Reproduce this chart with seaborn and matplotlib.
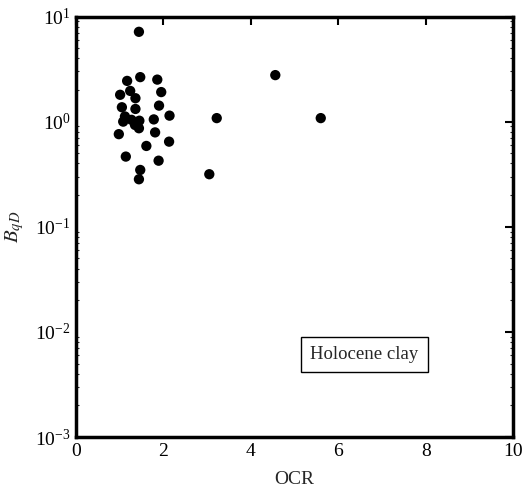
import matplotlib
matplotlib.use("Agg")
import matplotlib.pyplot as plt
import seaborn as sns
import pandas as pd
import numpy as np
from matplotlib.ticker import LogLocator, FixedLocator

ocr = [1.44, 1.47, 1.86, 1.17, 1.95, 1.01, 1.24, 1.36, 1.90, 1.05, 1.36, 2.14,
       3.22, 1.12, 1.08, 1.27, 1.45, 1.78, 1.35, 1.44, 0.98, 1.81, 2.13, 1.61,
       1.14, 1.89, 3.05, 1.47, 1.44, 4.56, 5.60]
bqd = [7.15, 2.65, 2.51, 2.44, 1.91, 1.80, 1.96, 1.67, 1.42, 1.37, 1.32, 1.14,
       1.08, 1.12, 1.00, 1.04, 1.02, 1.05, 0.93, 0.865, 0.76, 0.79, 0.645, 0.587,
       0.465, 0.425, 0.316, 0.347, 0.283, 2.77, 1.08]
x_ticks = [0, 2, 4, 6, 8, 10]
y_ticks = [1e-3, 1e-2, 1e-1, 1e0, 1e1]
legend_text = "Holocene clay"
x_label = "OCR"
y_label = r"$B_{qD}$"

sns.set_style("white")
plt.rcParams["font.family"] = ["Liberation Serif", "DejaVu Serif"]
plt.rcParams["mathtext.fontset"] = "stix"

df = pd.DataFrame({"OCR": ocr, "BqD": bqd})

fig = plt.figure(figsize=(5.23, 4.97), dpi=100)
ax = fig.add_axes([0.1453, 0.1207, 0.8357, 0.8461])
sns.scatterplot(data=df, x="OCR", y="BqD", ax=ax, color="black", s=55,
                edgecolor="none", linewidth=0, legend=False)
ax.set_yscale("log")
ax.set_xlim(0, 10)
ax.set_ylim(1e-3, 1e1)
ax.xaxis.set_major_locator(FixedLocator(x_ticks))
ax.yaxis.set_major_locator(FixedLocator(y_ticks))
ax.yaxis.set_minor_locator(LogLocator(base=10, subs=np.arange(2, 10), numticks=20))
ax.xaxis.set_minor_locator(FixedLocator([]))
for sp in ax.spines.values():
    sp.set_visible(True)
    sp.set_color("black")
    sp.set_linewidth(2.5)
ax.tick_params(axis="both", which="major", direction="in", length=6, width=1.5,
               top=True, right=True, labelsize=14, colors="black", pad=4)
ax.tick_params(axis="y", which="minor", direction="in", length=2, width=0.8,
               right=True, left=True)
ax.set_xlabel(x_label, fontsize=14, labelpad=8)
ax.set_ylabel(y_label, fontsize=15, labelpad=6)
ax.text(0.536, 0.196, legend_text, transform=ax.transAxes, fontsize=13.5,
        ha="left", va="center",
        bbox=dict(boxstyle="square,pad=0.5", facecolor="white",
                  edgecolor="black", linewidth=1.0))
fig.savefig("out.png", dpi=100)
